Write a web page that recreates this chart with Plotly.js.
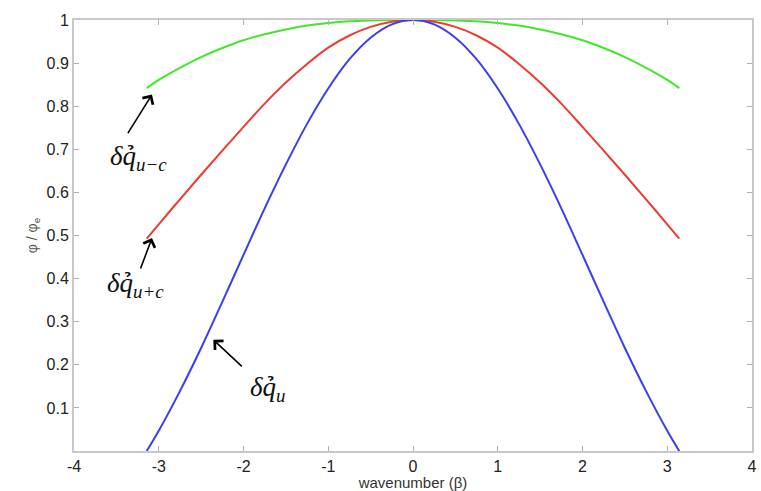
<!DOCTYPE html>
<html>
<head>
<meta charset="utf-8">
<script src="https://cdn.plot.ly/plotly-3.0.1.min.js"></script>
<style>
  html, body { margin: 0; padding: 0; background: #fff; }
  #chart { width: 761px; height: 491px; }
</style>
</head>
<body>
<div id="chart"></div>
<script>
// wavenumber samples (beta)
const beta = [-3.1416, -3.0, -2.75, -2.5, -2.25, -2.0, -1.75, -1.5, -1.25, -1.0, -0.75, -0.5, -0.25, 0,
              0.25, 0.5, 0.75, 1.0, 1.25, 1.5, 1.75, 2.0, 2.25, 2.5, 2.75, 3.0, 3.1416];

// phi / phi_e for each mode
const uMinusC = [0.842, 0.861, 0.889, 0.914, 0.935, 0.953, 0.967, 0.978, 0.987, 0.993, 0.997, 0.999, 1.0, 1.0,
                 1.0, 0.999, 0.997, 0.993, 0.987, 0.978, 0.967, 0.953, 0.935, 0.914, 0.889, 0.861, 0.842];
const uPlusC = [0.493, 0.526, 0.584, 0.641, 0.697, 0.752, 0.806, 0.855, 0.898, 0.936, 0.964, 0.984, 0.996, 1.0,
                0.996, 0.984, 0.964, 0.936, 0.898, 0.855, 0.806, 0.752, 0.697, 0.641, 0.584, 0.526, 0.493];
const uMode = [0.0, 0.047, 0.139, 0.239, 0.346, 0.455, 0.563, 0.665, 0.759, 0.841, 0.909, 0.959, 0.99, 1.0,
               0.99, 0.959, 0.909, 0.841, 0.759, 0.665, 0.563, 0.455, 0.346, 0.239, 0.139, 0.047, 0.0];

const xTicks = [-4, -3, -2, -1, 0, 1, 2, 3, 4];
const yTicks = [0.1, 0.2, 0.3, 0.4, 0.5, 0.6, 0.7, 0.8, 0.9, 1];
const yTickText = ['0.1', '0.2', '0.3', '0.4', '0.5', '0.6', '0.7', '0.8', '0.9', '1'];

const traces = [
    { y: uMinusC, color: '#44e62a', name: 'u-c' },
    { y: uPlusC, color: '#ee3b32', name: 'u+c' },
    { y: uMode, color: '#3a3ef2', name: 'u' }
].map(t => ({
    x: beta,
    y: t.y,
    type: 'scatter',
    mode: 'lines',
    name: t.name,
    line: { color: t.color, width: 2, shape: 'spline', smoothing: 1 },
    hoverinfo: 'skip'
}));

const labelFont = { family: 'Liberation Serif, Times New Roman, serif', size: 27, color: '#111' };
const arrowStyle = { showarrow: true, arrowhead: 4, arrowsize: 1.5, arrowwidth: 1.6, arrowcolor: '#000', standoff: 0, text: '' };

const annotations = [
    Object.assign({ x: -3.08, y: 0.827, ax: -25, ay: 40 }, arrowStyle),
    Object.assign({ x: -3.08, y: 0.494, ax: -12, ay: 32 }, arrowStyle),
    Object.assign({ x: -2.356, y: 0.258, ax: 30, ay: 28 }, arrowStyle),
    { x: -3.6, y: 0.68, xanchor: 'left', yanchor: 'middle', showarrow: false, font: labelFont,
      text: '<i>δq&#x0309;</i><sub><i>u−c</i></sub>' },
    { x: -3.64, y: 0.385, xanchor: 'left', yanchor: 'middle', showarrow: false, font: labelFont,
      text: '<i>δq&#x0309;</i><sub><i>u+c</i></sub>' },
    { x: -1.95, y: 0.145, xanchor: 'left', yanchor: 'middle', showarrow: false, font: labelFont,
      text: '<i>δq&#x0309;</i><sub><i>u</i></sub>' }
];

const axisCommon = {
    showgrid: false,
    zeroline: false,
    showline: true,
    mirror: 'ticks',
    linecolor: '#c8c8c8',
    linewidth: 2,
    ticks: 'inside',
    ticklen: 5,
    tickwidth: 1,
    tickcolor: '#b0b0b0',
    tickfont: { family: 'Liberation Sans, Arial, sans-serif', size: 16, color: '#222' }
};

const layout = {
    width: 761,
    height: 491,
    margin: { l: 74, r: 9, t: 20, b: 40 },
    paper_bgcolor: '#fff',
    plot_bgcolor: '#fff',
    showlegend: false,
    xaxis: Object.assign({}, axisCommon, {
        range: [-4, 4],
        tickvals: xTicks,
        ticktext: xTicks.map(String),
        title: { text: 'wavenumber (β)', standoff: 2,
                 font: { family: 'Liberation Sans, Arial, sans-serif', size: 15, color: '#333' } }
    }),
    yaxis: Object.assign({}, axisCommon, {
        range: [0, 1],
        tickvals: yTicks,
        ticktext: yTickText,
        title: { text: 'φ / φ<sub>e</sub>', standoff: 6,
                 font: { family: 'Liberation Sans, Arial, sans-serif', size: 14, color: '#555' } }
    }),
    annotations: annotations
};

Plotly.newPlot('chart', traces, layout, { displayModeBar: false, staticPlot: true });
</script>
</body>
</html>
